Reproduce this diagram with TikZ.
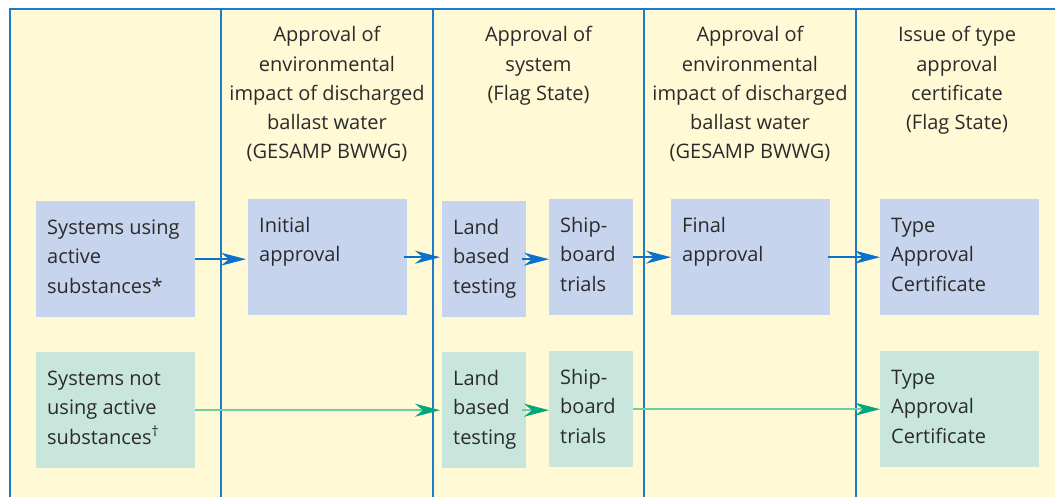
\documentclass[tikz,border=0pt]{standalone}
\usepackage{fontspec}
\setmainfont{Open Sans}
\usetikzlibrary{arrows.meta}
\definecolor{cream}{HTML}{FFF9D6}
\definecolor{boxblue}{HTML}{C6D4EE}
\definecolor{boxgreen}{HTML}{C9E6DD}
\definecolor{rulecol}{HTML}{1F7BC8}
\definecolor{arrowblue}{HTML}{0A72CC}
\definecolor{linegreen}{HTML}{6FCDA3}
\definecolor{arrowgreen}{HTML}{00A67C}
\definecolor{txt}{HTML}{2B2B2B}
\newcommand{\bxt}[3]{\parbox[t][#2pt][t]{#1pt}{\raggedright\rule{0pt}{33pt}#3}}
\newcommand{\hdr}[1]{\parbox[t]{212pt}{\centering\rule{0pt}{33pt}#1}}
\tikzset{
  base/.style={inner xsep=11pt, inner ysep=0pt, anchor=north west, text=txt,
    font=\fontsize{20}{29.5}\selectfont},
  bluebox/.style={base, fill=boxblue},
  greenbox/.style={base, fill=boxgreen},
  header/.style={inner sep=0pt, anchor=north, text=txt, font=\fontsize{20}{29.2}\selectfont},
  colrule/.style={draw=rulecol, line width=1.7pt},
  barrow/.style={draw=arrowblue, line width=1.4pt, -{Stealth[length=25pt,width=13pt,inset=8pt]}},
  garrow/.style={draw=linegreen, line width=1.8pt, -{Stealth[length=25pt,width=13pt,inset=8pt,color=arrowgreen]}}
}
\begin{document}
\begin{tikzpicture}[x=1pt,y=-1pt]
\useasboundingbox (0,0) rectangle (1055,497);
\fill[cream] (10,8.7) rectangle (1055,497);
% frame and column rules
\draw[colrule] (10,497) -- (10,8.7) -- (1055,8.7);
\foreach \x in {221.3,432.7,644.3,855.7} \draw[colrule] (\x,8.7) -- (\x,497);
% headers
\node[header] (h2) at (327,8.7) {\hdr{Approval of\\ environmental\\ impact of discharged\\ ballast water\\ (GESAMP BWWG)}};
\node[header] (h3) at (538.5,8.7) {\hdr{Approval of\\ system\\ (Flag State)}};
\node[header] (h4) at (750,8.7) {\hdr{Approval of\\ environmental\\ impact of discharged\\ ballast water\\ (GESAMP BWWG)}};
\node[header] (h5) at (957,8.7) {\hdr{Issue of type\\ approval\\ certificate\\ (Flag State)}};
% top row
\node[bluebox] (sa) at (36,201) {\bxt{137}{116}{Systems using\\ active\\ substances*}};
\node[bluebox] (ia) at (248,199) {\bxt{137}{116}{Initial\\ approval}};
\node[bluebox] (lb1) at (442,201) {\bxt{62}{116}{Land\\ based\\ testing}};
\node[bluebox] (sb1) at (549,199) {\bxt{62}{116}{Ship-\\ board\\ trials}};
\node[bluebox] (fa) at (671,199) {\bxt{137}{116}{Final\\ approval}};
\node[bluebox] (tc1) at (880,199) {\bxt{137}{116}{Type\\ Approval\\ Certificate}};
% bottom row
\node[greenbox] (sn) at (36,352) {\bxt{137}{116}{Systems not\\ using active\\ substances\textsuperscript{†}}};
\node[greenbox] (lb2) at (442,352) {\bxt{62}{116}{Land\\ based\\ testing}};
\node[greenbox] (sb2) at (549,351) {\bxt{62}{116}{Ship-\\ board\\ trials}};
\node[greenbox] (tc2) at (880,351) {\bxt{137}{116}{Type\\ Approval\\ Certificate}};
% arrows
\draw[barrow, shorten >=2pt] (sa.east) -- (sa.east -| ia.west);
\draw[barrow, shorten >=2pt] ([xshift=-3pt]ia.east) -- (ia.east -| lb1.west);
\draw[barrow] ([xshift=-4pt]lb1.east) -- (lb1.east -| sb1.west);
\draw[barrow] (sb1.east) -- (sb1.east -| fa.west);
\draw[barrow] ([xshift=-2pt]fa.east) -- (fa.east -| tc1.west);
\draw[garrow, shorten >=2pt] (sn.east) -- (sn.east -| lb2.west);
\draw[garrow] ([xshift=-4pt]lb2.east) -- (lb2.east -| sb2.west);
\draw[garrow] (sb2.east) -- (sb2.east -| tc2.west);
\end{tikzpicture}
\end{document}
